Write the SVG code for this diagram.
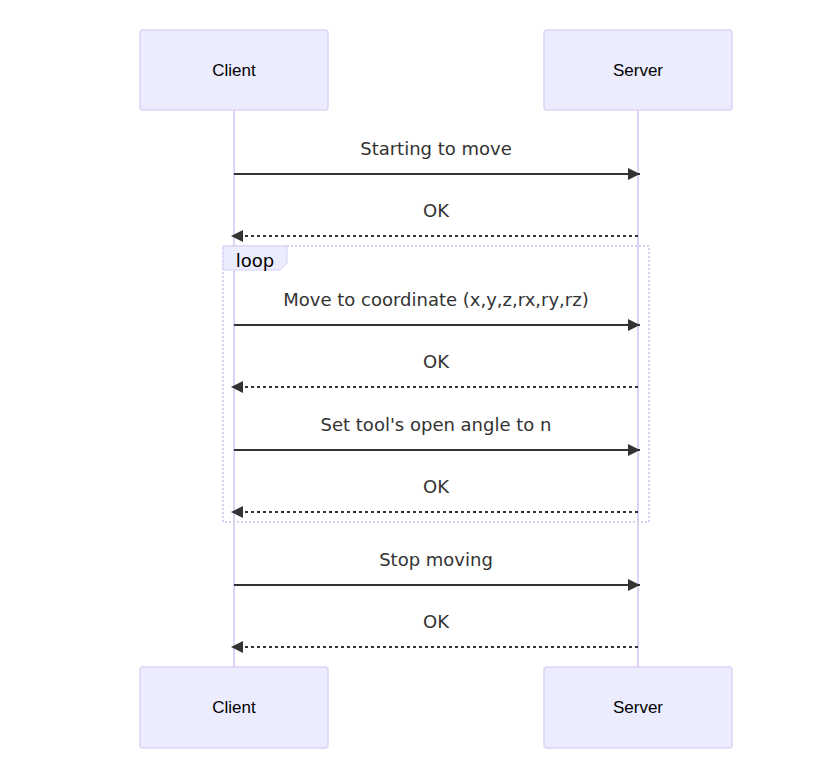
<svg xmlns="http://www.w3.org/2000/svg" width="824" height="776" viewBox="0 0 824 776">
<style>
.actor{fill:#ECECFF;stroke:#DCD4F6;stroke-width:1.5}
.actorText{font-family:"Liberation Sans",Arial,sans-serif;font-size:17px;fill:#000;text-anchor:middle;dominant-baseline:central}
.life{stroke:#DCD4F6;stroke-width:2}
.msg{stroke:#333;stroke-width:2;fill:none}
.dash{stroke-dasharray:3,3}
.msgText{font-family:"DejaVu Sans",sans-serif;font-size:18px;fill:#333;text-anchor:middle}
.loopBox{fill:none;stroke:#D8CFF5;stroke-width:2;stroke-dasharray:2,2}
.loopLabel{fill:#ECECFF;stroke:#D8CFF5;stroke-width:1}
.loopText{font-family:"DejaVu Sans",sans-serif;font-size:18px;fill:#000;text-anchor:middle}
</style>
<defs>
<marker id="arrow" viewBox="0 0 12 12" refX="12" refY="6" markerWidth="12" markerHeight="12" markerUnits="userSpaceOnUse" orient="auto">
<path d="M0,0 L12,6 L0,12 z" fill="#333"/>
</marker>
</defs>
<g id="lifelines">
<line class="life" x1="234" y1="110" x2="234" y2="667"/>
<line class="life" x1="638" y1="110" x2="638" y2="667"/>
</g>
<g id="client-top"><rect class="actor" x="140" y="30" width="188" height="80" rx="3"/><text class="actorText" x="234" y="70">Client</text></g>
<g id="server-top"><rect class="actor" x="544" y="30" width="188" height="80" rx="3"/><text class="actorText" x="638" y="70">Server</text></g>
<g id="client-bottom"><rect class="actor" x="140" y="667" width="188" height="81" rx="3"/><text class="actorText" x="234" y="707">Client</text></g>
<g id="server-bottom"><rect class="actor" x="544" y="667" width="188" height="81" rx="3"/><text class="actorText" x="638" y="707">Server</text></g>
<g id="loop">
<rect class="loopBox" x="223" y="246" width="426" height="276"/>
<polygon class="loopLabel" points="223,246 287,246 287,263 280,270 223,270"/>
<text class="loopText" x="255" y="267">loop</text>
</g>
<g id="connectors">
<line class="msg" x1="234" y1="174" x2="640" y2="174" marker-end="url(#arrow)"/>
<line class="msg dash" x1="638" y1="236" x2="231" y2="236" marker-end="url(#arrow)"/>
<line class="msg" x1="234" y1="325" x2="640" y2="325" marker-end="url(#arrow)"/>
<line class="msg dash" x1="638" y1="387" x2="231" y2="387" marker-end="url(#arrow)"/>
<line class="msg" x1="234" y1="450" x2="640" y2="450" marker-end="url(#arrow)"/>
<line class="msg dash" x1="638" y1="512" x2="231" y2="512" marker-end="url(#arrow)"/>
<line class="msg" x1="234" y1="585" x2="640" y2="585" marker-end="url(#arrow)"/>
<line class="msg dash" x1="638" y1="647" x2="231" y2="647" marker-end="url(#arrow)"/>
</g>
<g id="labels">
<text class="msgText" x="436" y="155">Starting to move</text>
<text class="msgText" x="436" y="217">OK</text>
<text class="msgText" x="436" y="306">Move to coordinate (x,y,z,rx,ry,rz)</text>
<text class="msgText" x="436" y="368">OK</text>
<text class="msgText" x="436" y="431">Set tool's open angle to n</text>
<text class="msgText" x="436" y="493">OK</text>
<text class="msgText" x="436" y="566">Stop moving</text>
<text class="msgText" x="436" y="628">OK</text>
</g>
</svg>
